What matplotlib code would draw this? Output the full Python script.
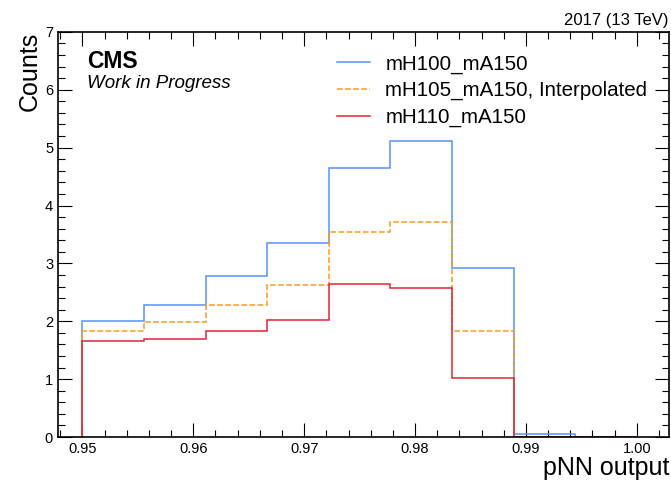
import numpy as np
import matplotlib
matplotlib.use("Agg")
import matplotlib.pyplot as plt
from matplotlib.ticker import MultipleLocator
from matplotlib.lines import Line2D

plt.rcParams['font.family'] = ['Liberation Sans', 'DejaVu Sans']

# bin edges of the pNN output histogram (9 bins between 0.95 and 1.0)
edges = np.linspace(0.95, 1.0, 10)

# counts per bin
mh100 = [2.01, 2.28, 2.78, 3.36, 4.64, 5.11, 2.92, 0.05, 0.0]
mh105 = [1.83, 1.98, 2.28, 2.62, 3.54, 3.72, 1.83, 0.0, 0.0]
mh110 = [1.66, 1.69, 1.84, 2.03, 2.64, 2.58, 1.02, 0.0, 0.0]

labels = ["mH100_mA150", "mH105_mA150, Interpolated", "mH110_mA150"]
colors = ["#5790fc", "#f89c20", "#e42536"]
styles = ["-", "--", "-"]

fig = plt.figure(figsize=(6.71, 4.83), dpi=100)
ax = fig.add_axes([0.0864, 0.0952, 0.9106, 0.8388])

centers = 0.5 * (edges[:-1] + edges[1:])
for vals, c, ls in zip([mh100, mh105, mh110], colors, styles):
    ax.hist(centers, bins=edges, weights=vals, histtype='step', color=c,
            lw=1.1, ls=ls)

ax.set_xlim(0.9478, 1.0029)
ax.set_ylim(0, 7)
ax.xaxis.set_minor_locator(MultipleLocator(0.002))
ax.yaxis.set_major_locator(MultipleLocator(1))
ax.yaxis.set_minor_locator(MultipleLocator(0.2))
ax.set_xticks(np.arange(0.95, 1.001, 0.01))
ax.set_xticklabels(["0.95", "0.96", "0.97", "0.98", "0.99", "1.00"])
ax.tick_params(which='both', direction='in', top=True, right=True, labelsize=10.5)
ax.tick_params(which='major', length=10, width=0.8)
ax.tick_params(which='minor', length=5, width=0.8)
for s in ax.spines.values():
    s.set_linewidth(1.2)

ax.set_xlabel("pNN output", fontsize=18, loc='right', labelpad=0)
ax.set_ylabel("Counts", fontsize=18, loc='top', labelpad=2)

ax.text(1.0, 1.01, "2017 (13 TeV)", transform=ax.transAxes, ha='right', va='bottom',
        fontsize=12)
ax.text(0.048, 0.926, "CMS", transform=ax.transAxes, fontsize=16.5, fontweight='bold',
        va='center')
ax.text(0.048, 0.872, "Work in Progress", transform=ax.transAxes, fontsize=13.5,
        style='italic', va='center')

handles = [Line2D([], [], color=c, ls=ls, lw=1.1) for c, ls in zip(colors, styles)]
ax.legend(handles, labels, loc='upper right', bbox_to_anchor=(0.995, 0.99),
          frameon=False, fontsize=14.8, handlelength=1.6, handletextpad=0.75,
          labelspacing=0.36)

fig.savefig("out.png", dpi=100)
